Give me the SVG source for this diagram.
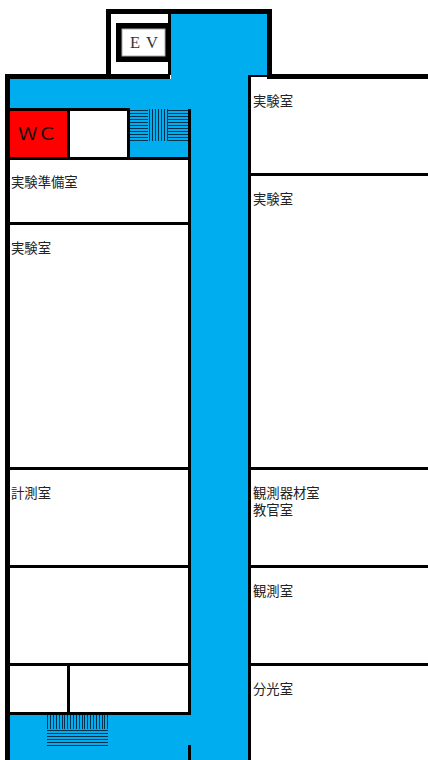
<svg xmlns="http://www.w3.org/2000/svg" width="428" height="760" viewBox="0 0 428 760">
<style>
.w{fill:#000}
.c{fill:#00aeef}
.l{font:13.33px "Noto Sans CJK JP","Noto Sans CJK SC",sans-serif;fill:#222}
.st{stroke:#04324f;stroke-width:1;fill:none;shape-rendering:crispEdges}
</style>
<g id="corridor">
<rect class="c" x="10" y="79" width="238" height="681"/>
<rect class="c" x="171" y="14" width="96" height="61"/>
<rect class="c" x="171" y="75" width="78" height="5"/>
</g>
<g id="room-wc"><rect x="10" y="111" width="58" height="46" fill="#f00"/>
<text x="18" y="140" font-family="'Noto Sans CJK JP',sans-serif" font-size="17" fill="#111" textLength="39" lengthAdjust="spacingAndGlyphs">ＷＣ</text></g>
<g id="room-store"><rect x="70" y="111" width="57" height="46" fill="#fff"/></g>
<g id="room-prep"><rect x="10" y="160" width="178" height="62" fill="#fff"/><text class="l" x="11" y="187">実験準備室</text></g>
<g id="room-lab-left"><rect x="10" y="225" width="178" height="242" fill="#fff"/><text class="l" x="11" y="253">実験室</text></g>
<g id="room-measure"><rect x="10" y="470" width="178" height="95" fill="#fff"/><text class="l" x="11" y="498">計測室</text></g>
<g id="room-left-5"><rect x="10" y="568" width="178" height="95" fill="#fff"/></g>
<g id="room-left-6"><rect x="10" y="666" width="57" height="46" fill="#fff"/></g>
<g id="room-left-7"><rect x="70" y="666" width="118" height="46" fill="#fff"/></g>
<g id="room-lab-1"><text class="l" x="253" y="106">実験室</text></g>
<g id="room-lab-2"><text class="l" x="253" y="204">実験室</text></g>
<g id="room-equip"><text class="l" x="253" y="498">観測器材室</text><text class="l" x="253" y="515">教官室</text></g>
<g id="room-obs"><text class="l" x="253" y="596">観測室</text></g>
<g id="room-spectro"><text class="l" x="253" y="694">分光室</text></g>
<g id="ev">
<rect x="116" y="23" width="53" height="39" fill="#000"/>
<rect x="122" y="29" width="43" height="27" fill="#fff" stroke="#aaa" stroke-width="1"/>
<text x="130" y="48" font-family="'Liberation Serif',serif" font-size="16.500" fill="#333" letter-spacing="1">E V</text>
</g>
<g id="stairs-top" class="st">
<path d="M130 110.500H148M130 113.500H148M130 116.500H148M130 119.500H148M130 122.500H148M130 125.500H148M130 128.500H148M130 131.500H148M130 134.500H148M130 137.500H148M130 140.500H148"/>
<path d="M168 110.500H188M168 113.500H188M168 116.500H188M168 119.500H188M168 122.500H188M168 125.500H188M168 128.500H188M168 131.500H188M168 134.500H188M168 137.500H188M168 140.500H188"/>
<path d="M149.500 109V141M152.500 109V141M155.500 109V141M158.500 109V141M161.500 109V141M164.500 109V141M167.500 109V141"/>
</g>
<g id="stairs-bottom" class="st">
<path d="M47.500 715V729M50.500 715V729M53.500 715V729M56.500 715V729M59.500 715V729M62.500 715V729M64.500 715V729M67.500 715V729M70.500 715V729M73.500 715V729M76.500 715V729M79.500 715V729M82.500 715V729M84.500 715V729M87.500 715V729M90.500 715V729M93.500 715V729M96.500 715V729M99.500 715V729M102.500 715V729M104.500 715V729M107.500 715V729"/>
<path d="M47 730.500H108M47 733.500H108M47 736.500H108M47 739.500H108M47 742.500H108M47 745.500H108"/>
</g>
<g id="walls" class="w">
<rect x="5" y="74" width="5" height="686"/>
<rect x="5" y="74" width="165" height="5"/>
<rect x="106" y="9" width="166" height="5"/>
<rect x="106" y="9" width="5" height="66"/>
<rect x="168" y="9" width="3" height="66"/>
<rect x="267" y="9" width="5" height="70"/>
<rect x="248" y="75" width="3" height="685"/>
<rect x="248" y="75" width="22" height="2"/>
<rect x="267" y="74" width="161" height="5"/>
<rect x="10" y="108" width="120" height="3"/>
<rect x="67" y="108" width="3" height="50"/>
<rect x="127" y="108" width="3" height="50"/>
<rect x="188" y="109" width="3" height="606"/>
<rect x="10" y="157" width="180" height="3"/>
<rect x="10" y="222" width="180" height="3"/>
<rect x="10" y="467" width="180" height="3"/>
<rect x="10" y="565" width="180" height="3"/>
<rect x="10" y="663" width="180" height="3"/>
<rect x="10" y="712" width="181" height="3"/>
<rect x="67" y="665" width="3" height="48"/>
<rect x="188" y="745" width="3" height="15"/>
<rect x="250" y="173" width="178" height="3"/>
<rect x="250" y="467" width="178" height="3"/>
<rect x="250" y="565" width="178" height="3"/>
<rect x="250" y="663" width="178" height="3"/>
</g>
</svg>
